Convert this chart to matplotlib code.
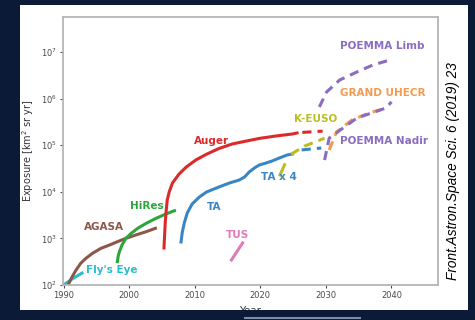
import numpy as np
import matplotlib
matplotlib.use("Agg")
import matplotlib.pyplot as plt
from matplotlib.patches import Rectangle

# exposure curves: (years, exposure in km^2 sr yr)
flys_eye_yr = [1990.0, 1991.3, 1992.8]
flys_eye_exp = [100, 135, 180]

agasa_yr = [1990.8, 1991.3, 1991.9, 1992.6, 1993.4, 1994.4, 1995.7, 1997.0,
            1998.2, 1999.5, 2001.0, 2002.6, 2004.0]
agasa_exp = [109, 151, 210, 292, 374, 479, 613, 721, 849, 1004, 1183, 1393, 1648]

hires_yr = [1998.2, 1998.3, 1998.5, 1998.9, 1999.5, 2000.3, 2001.3, 2002.6,
            2004.1, 2005.6, 2006.9]
hires_exp = [316, 405, 518, 721, 1004, 1285, 1648, 2110, 2700, 3340, 3930]

auger_yr = [2005.3, 2005.4, 2005.5, 2005.65, 2005.8, 2006.1, 2006.6, 2007.6, 2008.7,
            2010.2, 2011.8, 2013.7, 2015.7, 2017.9, 2019.9, 2022.4, 2024.9, 2025.6]
auger_exp = [622, 1183, 2250, 4060, 6670, 9900, 15450, 24000, 34000,
             48500, 64000, 85000, 106000, 123000, 140000, 157500, 173800, 182700]
auger_fut_yr = [2026.4, 2029.5]
auger_fut_exp = [188000, 200000]

ta_yr = [2007.9, 2008.1, 2008.4, 2008.85, 2009.6, 2010.7, 2011.8, 2013.7, 2015.3,
         2016.8, 2017.6, 2018.3, 2019.1, 2019.85, 2020.9, 2021.8, 2022.9, 2024.1, 2024.9]
ta_exp = [838, 1372, 2140, 3510, 5470, 7730, 9900, 12680, 15450,
          17900, 20800, 26600, 32400, 37600, 41500, 45800, 53100, 61600, 64700]
ta_fut_yr = [2026.3, 2029.3]
ta_fut_exp = [79000, 87000]

tus_yr = [2015.6, 2017.3]
tus_exp = [345, 800]

tax4_yr = [2023.0, 2023.7]
tax4_exp = [23000, 38000]

keuso_yr = [2024.7, 2026.7, 2029.8]
keuso_exp = [64000, 95000, 141000]

grand_yr = [2030.5, 2031.6, 2034.0, 2036.6, 2039.2]
grand_exp = [79000, 190000, 350000, 490000, 630000]

pnadir_yr = [2029.8, 2030.5, 2034.7, 2039.2, 2040.0]
pnadir_exp = [48000, 142000, 380000, 630000, 850000]

plimb_yr = [2029.0, 2030.1, 2032.1, 2034.7, 2037.1, 2039.7]
plimb_exp = [660000, 1380000, 2500000, 3700000, 5200000, 6700000]

navy = '#0b1a36'
c_fly = '#2bbccb'
c_agasa = '#8c564b'
c_hires = '#2ca63a'
c_auger = '#dc2a2a'
c_ta = '#3a86c4'
c_tus = '#e07ab8'
c_olive = '#bcbd22'
c_grand = '#f59a4e'
c_poemma = '#8a6cc0'

fig = plt.figure(figsize=(4.75, 3.2), dpi=100)
fig.patch.set_facecolor(navy)
# white picture panel behind the chart
fig.patches.append(Rectangle((20/475, 10/320), 448/475, 305/320, transform=fig.transFigure,
                             facecolor='white', edgecolor='none', zorder=-1))

ax = fig.add_axes([63/475, 35/320, 375/475, 268/320])
ax.set_yscale('log')

lw = 2.2
dash = (0, (3, 2))
ax.plot(flys_eye_yr, flys_eye_exp, color=c_fly, lw=lw)
ax.plot(agasa_yr, agasa_exp, color=c_agasa, lw=lw)
ax.plot(hires_yr, hires_exp, color=c_hires, lw=lw)
ax.plot(auger_yr, auger_exp, color=c_auger, lw=lw)
ax.plot(auger_fut_yr, auger_fut_exp, color=c_auger, lw=lw, ls=dash)
ax.plot(ta_yr, ta_exp, color=c_ta, lw=lw)
ax.plot(ta_fut_yr, ta_fut_exp, color=c_ta, lw=lw, ls=dash)
ax.plot(tus_yr, tus_exp, color=c_tus, lw=lw)
ax.plot(tax4_yr, tax4_exp, color=c_olive, lw=lw)
ax.plot(keuso_yr, keuso_exp, color=c_olive, lw=lw, ls=dash)
ax.plot(grand_yr, grand_exp, color=c_grand, lw=lw, ls=dash)
ax.plot(pnadir_yr, pnadir_exp, color=c_poemma, lw=lw, ls=dash)
ax.plot(plimb_yr, plimb_exp, color=c_poemma, lw=lw, ls=dash)

lab = dict(fontsize=7.5, fontweight='bold', ha='center', va='center')
ax.text(1997.3, 10**2.32, "Fly's Eye", color=c_fly, **lab)
ax.text(1996.2, 10**3.24, 'AGASA', color=c_agasa, **lab)
ax.text(2002.7, 10**3.70, 'HiRes', color=c_hires, **lab)
ax.text(2012.5, 10**5.09, 'Auger', color=c_auger, **lab)
ax.text(2013.0, 10**3.67, 'TA', color=c_ta, **lab)
ax.text(2016.5, 10**3.07, 'TUS', color=c_tus, **lab)
ax.text(2022.9, 10**4.32, 'TA x 4', color=c_ta, **lab)
ax.text(2028.5, 10**5.56, 'K-EUSO', color=c_olive, **lab)
ax.text(2038.6, 10**7.13, 'POEMMA Limb', color=c_poemma, **lab)
ax.text(2038.6, 10**6.12, 'GRAND UHECR', color=c_grand, **lab)
ax.text(2038.9, 10**5.09, 'POEMMA Nadir', color=c_poemma, **lab)

ax.set_xlim(1989.9, 2047.1)
ax.set_ylim(1e2, 10**7.75)
ax.set_xticks([1990, 2000, 2010, 2020, 2030, 2040])
ax.set_yticks([1e2, 1e3, 1e4, 1e5, 1e6, 1e7])
ax.minorticks_off()
ax.tick_params(labelsize=6, colors='#4a4a4a', length=2.5, width=0.8, pad=2)
for s in ax.spines.values():
    s.set_color('#b5b5b5')
    s.set_linewidth(1.3)

ax.set_ylabel('Exposure [km$^2$ sr yr]', fontsize=7, color='#333333', labelpad=3)
ax.set_xlabel('Year', fontsize=7.5, color='#333333', labelpad=4)

# right-hand citation strip
fig.text(453/475, 149/320, 'Front.Astron.Space Sci. 6 (2019) 23', rotation=90,
         ha='center', va='center', fontsize=9.8, style='italic', family='Liberation Sans',
         color='black')

# navy band at the bottom that crops the picture
fig.patches.append(Rectangle((0, 0), 1, 10/320, transform=fig.transFigure,
                             facecolor=navy, edgecolor='none', zorder=5))
fig.lines.append(plt.Line2D([245/475, 360/475], [2/320, 2/320], transform=fig.transFigure,
                            color='#7f8aa6', lw=1.5, zorder=6))

fig.savefig('out.png', dpi=100, facecolor=navy)
